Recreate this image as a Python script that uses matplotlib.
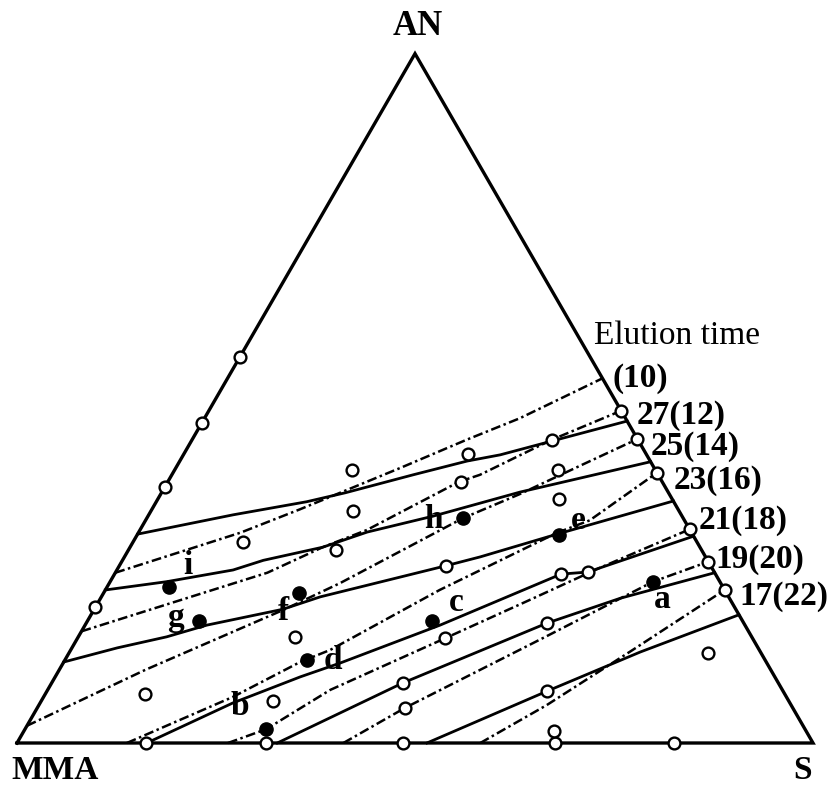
import numpy as np
import matplotlib.pyplot as plt

plt.rcParams['font.family'] = ['Liberation Serif', 'DejaVu Serif']
plt.rcParams['lines.scale_dashes'] = False

# compositions in % as (S, AN); MMA = 100 - S - AN

# iso-elution-time curves, solid (min, 2nd set)
solid_27 = [(0, 30.3), (10.6, 33.1), (18.9, 35.0), (23.1, 36.3), (30.3, 38.9), (36.1, 40.9),
            (39.8, 41.8), (45.3, 43.8), (53.3, 46.7)]
solid_25 = [(0, 22.2), (7.1, 23.4), (14.6, 25.1), (17.7, 26.5), (24.2, 28.4), (28.7, 30.6),
            (35.8, 32.9), (40.8, 34.8), (45.0, 36.4), (59.2, 40.8)]
solid_23 = [(0, 11.75), (5.7, 13.8), (11.1, 15.4), (15.3, 17.1), (23.7, 19.4), (27.5, 21.2),
            (41.0, 25.7), (44.7, 27.0), (52.7, 30.3), (64.9, 35.1)]
solid_21 = [(16.3, 0), (24.2, 5.8), (30.8, 9.6), (34.8, 11.6), (44.6, 17.1), (56.1, 24.5),
            (59.3, 24.8), (70.0, 30.0)]
solid_19 = [(32.7, 0), (44.1, 8.7), (57.9, 17.4), (65.3, 21.0), (75.3, 24.7)]
solid_17 = [(51.5, 0), (62.8, 7.5), (71.7, 13.2), (81.4, 18.6)]

# dash-dot curves (values in brackets)
dash_10 = [(0, 24.7), (12.8, 30.5), (18.6, 33.9), (28.2, 39.9), (34.5, 44.0), (39.6, 47.1), (47.1, 52.9)]
dash_12 = [(0, 16.2), (10.1, 20.7), (19.1, 24.7), (24.2, 28.4), (28.5, 30.9), (36.6, 37.9),
           (38.7, 38.9), (45.2, 44.0), (51.8, 48.2)]
dash_14 = [(0, 2.5), (10.8, 10.6), (23.8, 19.3), (29.0, 23.2), (39.7, 32.6), (45.1, 36.1),
           (50.6, 40.2), (55.9, 44.1)]
dash_16 = [(13.8, 0), (23.8, 6.7), (29.7, 11.75), (32.6, 13.5), (42.0, 22.2), (52.6, 30.5),
           (55.8, 32.3), (60.8, 39.2)]
dash_18 = [(26.5, 0), (30.3, 2.0), (35.5, 7.7), (46.2, 15.2), (53.4, 20.3), (60.5, 25.4), (69.0, 31.0)]
dash_20 = [(41.0, 0), (46.2, 5.1), (58.8, 15.5), (68.2, 23.4), (73.7, 26.3)]
dash_22 = [(58.2, 0), (63.8, 5.5), (70.6, 13.5), (77.8, 22.2)]

# measured compositions (open circles)
open_pts = [(0, 56.0), (0, 46.4), (0, 37.1), (0, 19.7),
            (16.2, 0), (31.3, 0), (48.5, 0), (67.6, 0), (82.5, 0),
            (22.3, 39.6), (35.7, 41.9), (45.2, 44.0), (25.3, 33.7), (36.8, 37.9), (48.2, 39.6),
            (50.4, 35.4), (13.8, 29.2), (26.1, 28.0), (41.0, 25.7), (56.1, 24.5), (59.3, 24.8),
            (46.2, 15.2), (57.9, 17.4), (27.2, 15.4), (12.5, 7.1), (29.1, 6.1), (44.1, 8.7),
            (46.2, 5.1), (62.8, 7.5), (80.3, 13.1), (66.6, 1.7)]

# points on the AN-S side (S = 100 - AN) with their labels
right_an = [48.2, 44.1, 39.2, 31.0, 26.3, 22.2]
right_labels = ['27(12)', '25(14)', '23(16)', '21(18)', '19(20)', '17(22)']

# samples a-i (filled)
filled_names = ['a', 'b', 'c', 'd', 'e', 'f', 'g', 'h', 'i']
filled_pts = [(68.2, 23.4), (30.3, 2.0), (43.3, 17.7), (30.4, 12.0), (53.0, 30.2),
              (24.5, 21.8), (14.0, 17.7), (39.7, 32.6), (7.8, 22.6)]


def tern(pts):
    s = np.array([p[0] for p in pts]) / 100.0
    an = np.array([p[1] for p in pts]) / 100.0
    return s + an / 2, an * np.sqrt(3) / 2


fig = plt.figure(figsize=(8.4, 7.86), dpi=100)
ax = fig.add_axes([0, 0, 1, 1])
ax.set_xlim(-17 / 796, 823 / 796)
ax.set_ylim(-43 / 796, 743 / 796)
ax.axis('off')

# triangle
corners = [(0, 0), (100, 0), (0, 100), (0, 0)]
tx, ty = tern(corners)
ax.plot(tx, ty, color='black', lw=2.4, zorder=3, solid_joinstyle='miter')

for line in [solid_27, solid_25, solid_23, solid_21, solid_19, solid_17]:
    x, y = tern(line)
    ax.plot(x, y, color='black', lw=2.0, zorder=2)

for line in [dash_10, dash_12, dash_14, dash_16, dash_18, dash_20, dash_22]:
    x, y = tern(line)
    ax.plot(x, y, color='black', lw=1.8, linestyle=(0, (7, 2.5, 1.8, 2.5)), zorder=2)

x, y = tern(open_pts)
ax.plot(x, y, 'o', ms=8.5, mfc='white', mec='black', mew=1.7, zorder=4, clip_on=False)

rx, ry = tern([(100 - a, a) for a in right_an])
ax.plot(rx, ry, 'o', ms=8.5, mfc='white', mec='black', mew=1.7, zorder=4, clip_on=False)

fx, fy = tern(filled_pts)
ax.plot(fx, fy, 'o', ms=9.5, color='black', zorder=5)

k = 0.72  # px -> pt
lab_off = {'a': (9, 18), 'b': (-26, -23), 'c': (24, -18), 'd': (26, 0), 'e': (19, -14),
           'f': (-15, 19), 'g': (-23, -3), 'h': (-29, 1), 'i': (19, -22)}
for name, xx, yy in zip(filled_names, fx, fy):
    dx, dy = lab_off[name]
    ax.annotate(name, (xx, yy), xytext=(dx * k, -dy * k), textcoords='offset points',
                ha='center', va='center', fontsize=24, fontweight='bold')

r_off = [(15, 5), (13, 8), (17, 8), (9, -9), (7, -2), (15, 7)]
for lab, xx, yy, (dx, dy) in zip(right_labels, rx, ry, r_off):
    ax.annotate(lab, (xx, yy), xytext=(dx * k, -dy * k), textcoords='offset points',
                ha='left', va='center', fontsize=24, fontweight='bold')

ex, ey = tern(dash_10[-1:])
ax.annotate('(10)', (ex[0], ey[0]), xytext=(10 * k, 0), textcoords='offset points',
            ha='left', va='center', fontsize=24, fontweight='bold')
ax.annotate('Elution time', (ex[0], ey[0]), xytext=(-8 * k, 43 * k), textcoords='offset points',
            ha='left', va='center', fontsize=24)

# vertex names
ax.annotate('AN', (tx[2], ty[2]), xytext=(3 * k, 27 * k), textcoords='offset points',
            ha='center', va='center', fontsize=25, fontweight='bold')
ax.annotate('MMA', (tx[0], ty[0]), xytext=(38 * k, -36 * k), textcoords='offset points',
            ha='center', va='baseline', fontsize=24, fontweight='bold')
ax.annotate('S', (tx[1], ty[1]), xytext=(-10 * k, -36 * k), textcoords='offset points',
            ha='center', va='baseline', fontsize=24, fontweight='bold')

fig.savefig('out.png', dpi=100)
